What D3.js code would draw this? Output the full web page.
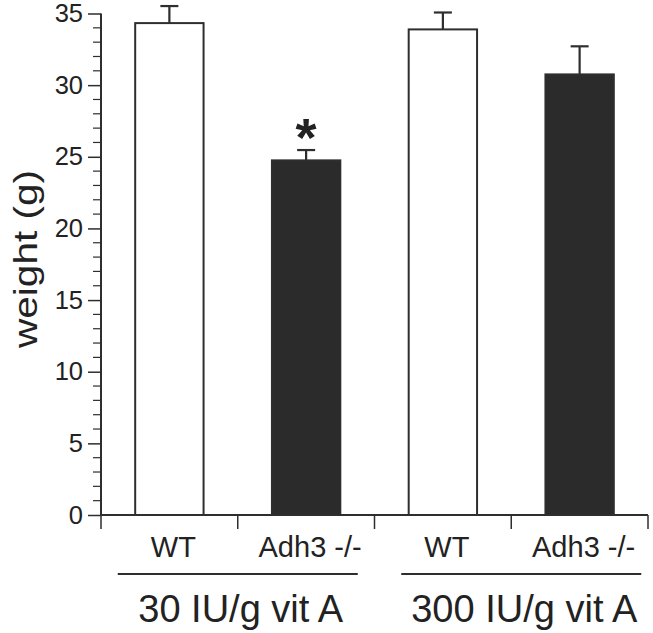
<!DOCTYPE html>
<html><head><meta charset="utf-8">
<script src="https://cdn.jsdelivr.net/npm/d3@7"></script>
<style>
html,body{margin:0;padding:0;background:#fff;}
text{font-family:"Liberation Sans",Arial,Helvetica,sans-serif;fill:#222;}
</style></head>
<body>
<svg id="chart" width="653" height="633"></svg>
<script>
// ---- data ----
const categories = ["WT", "Adh3 -/-", "WT", "Adh3 -/-"];
const keys = ["a", "b", "c", "d"];
const values = [34.33, 24.75, 33.89, 30.75];
const errors = [1.19, 0.72, 1.18, 1.96];
const genotype = ["wt", "ko", "wt", "ko"];
const significant = [false, true, false, false];
const groups = ["30 IU/g vit A", "300 IU/g vit A"];
const groupMembers = [["a", "b"], ["c", "d"]];
const yTicks = [0, 5, 10, 15, 20, 25, 30, 35];
const yTitle = "weight (g)";

// ---- layout ----
const svg = d3.select("#chart");
const x0 = 101, x1 = 648, yBase = 515, yTop = 13.5;
const ink = "#2e2e2e";
const darkFill = "#2b2b2b";

const x = d3.scaleBand().domain(keys).range([x0, x1]).paddingInner(0.5).paddingOuter(0.25);
const y = d3.scaleLinear().domain([0, 35]).range([yBase, yTop]);
const step = x.step();

// y axis
const yAxis = d3.axisLeft(y).tickValues(yTicks).tickSize(13).tickPadding(5).tickFormat(d3.format("d"));
const gy = svg.append("g").attr("transform", `translate(${x0},0)`).call(yAxis);
gy.select(".domain").attr("stroke", ink).attr("stroke-width", 2).attr("d", `M0,${yBase}V${yTop}`);
gy.selectAll(".tick line").attr("stroke", ink).attr("stroke-width", 1.5);
gy.selectAll(".tick text").attr("font-size", 25.5).attr("font-family", '"Liberation Sans",Arial,sans-serif').attr("fill", "#222");
// minor ticks
const minor = d3.range(0, 36).filter(v => v % 5 !== 0);
svg.append("g").selectAll("line").data(minor).join("line")
  .attr("x1", x0 - 8).attr("x2", x0).attr("y1", d => y(d)).attr("y2", d => y(d))
  .attr("stroke", ink).attr("stroke-width", 1.2);

// x axis line + separators
svg.append("line").attr("x1", x0).attr("x2", x1).attr("y1", yBase).attr("y2", yBase)
  .attr("stroke", ink).attr("stroke-width", 2);
const sepPos = d3.range(0, keys.length + 1).map(i => x0 + i * step);
svg.append("g").selectAll("line").data(sepPos).join("line")
  .attr("x1", d => d).attr("x2", d => d).attr("y1", yBase).attr("y2", yBase + 14)
  .attr("stroke", ink).attr("stroke-width", 1.5);

// error bars (upper only)
const eb = svg.append("g");
keys.forEach((k, i) => {
  const cx = x(k) + x.bandwidth() / 2;
  eb.append("line").attr("x1", cx).attr("x2", cx).attr("y1", y(values[i])).attr("y2", y(values[i] + errors[i]))
    .attr("stroke", ink).attr("stroke-width", 2.2);
  eb.append("line").attr("x1", cx - 9).attr("x2", cx + 9).attr("y1", y(values[i] + errors[i])).attr("y2", y(values[i] + errors[i]))
    .attr("stroke", ink).attr("stroke-width", 2.2);
});

// bars
svg.append("g").selectAll("rect").data(keys).join("rect")
  .attr("x", d => x(d)).attr("width", x.bandwidth())
  .attr("y", (d, i) => y(values[i])).attr("height", (d, i) => yBase - y(values[i]))
  .attr("fill", (d, i) => genotype[i] === "ko" ? darkFill : "#fff")
  .attr("stroke", ink).attr("stroke-width", 2);

// significance asterisk
svg.append("g").selectAll("text").data(keys.filter((k, i) => significant[i])).join("text")
  .attr("x", d => x(d) + x.bandwidth() / 2)
  .attr("y", d => { const i = keys.indexOf(d); return y(values[i] + errors[i]) + 6; })
  .attr("text-anchor", "middle").attr("font-size", 54).attr("font-weight", "bold").text("*");

// category labels
svg.append("g").selectAll("text").data(keys).join("text")
  .attr("x", d => x(d) + x.bandwidth() / 2 + 4).attr("y", 557)
  .attr("text-anchor", "middle").attr("font-size", 29).text((d, i) => categories[i]);

// group lines and labels
const groupShift = [0, 10];
groups.forEach((g, gi) => {
  const m = groupMembers[gi];
  const cx = (x(m[0]) + x(m[m.length - 1]) + x.bandwidth()) / 2 + groupShift[gi];
  svg.append("line").attr("x1", cx - 120).attr("x2", cx + 120).attr("y1", 574).attr("y2", 574)
    .attr("stroke", ink).attr("stroke-width", 2);
  svg.append("text").attr("x", cx + 3).attr("y", 622).attr("text-anchor", "middle")
    .attr("font-size", 38).text(g);
});

// y title
svg.append("text").attr("transform", `translate(37,259) rotate(-90)`)
  .attr("text-anchor", "middle").attr("font-size", 34)
  .attr("textLength", 178).attr("lengthAdjust", "spacingAndGlyphs").text(yTitle);
</script>
</body></html>
